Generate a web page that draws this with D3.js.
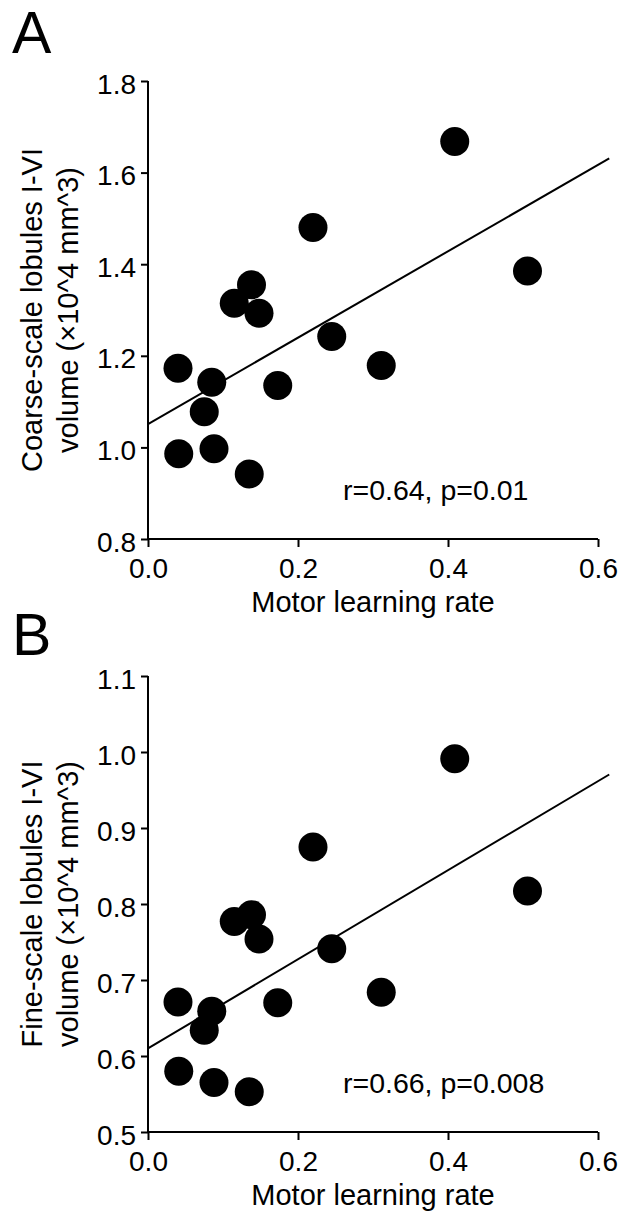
<!DOCTYPE html>
<html>
<head>
<meta charset="utf-8">
<script src="https://cdn.jsdelivr.net/npm/d3@7"></script>
<style>
  body { margin: 0; background: #fff; }
  svg text { font-family: "Liberation Sans", Arial, sans-serif; fill: #000; }
</style>
</head>
<body>
<svg id="chart" width="634" height="1213"></svg>
<script>
// motor learning rate, same subjects in both panels
var learningRate = [0.040, 0.041, 0.085, 0.075, 0.088, 0.135, 0.173, 0.245, 0.311, 0.115, 0.138, 0.148, 0.220, 0.409, 0.506];
// coarse-scale lobules I-VI volume (x10^4 mm^3)
var coarseVolume = [1.173, 0.986, 1.142, 1.078, 0.997, 0.942, 1.135, 1.242, 1.179, 1.315, 1.355, 1.293, 1.480, 1.668, 1.385];
// fine-scale lobules I-VI volume (x10^4 mm^3)
var fineVolume = [0.671, 0.580, 0.659, 0.634, 0.565, 0.553, 0.670, 0.741, 0.684, 0.777, 0.786, 0.754, 0.875, 0.991, 0.817];

var xTicks = [0, 0.2, 0.4, 0.6];
var coarseTicks = [0.8, 1.0, 1.2, 1.4, 1.6, 1.8];
var fineTicks = [0.5, 0.6, 0.7, 0.8, 0.9, 1.0, 1.1];

// regression lines
var fitIntercept = [1.051, 0.610];
var fitSlope = [0.943, 0.586];
var fitEnd = 0.615;

var panelLetters = ['A', 'B'];
var yTitles = [
  ['Coarse-scale lobules I-VI', 'volume (\u00d710^4 mm^3)'],
  ['Fine-scale lobules I-VI', 'volume (\u00d710^4 mm^3)']
];
var statText = ['r=0.64, p=0.01', 'r=0.66, p=0.008'];

var svg = d3.select('#chart');

var left = 148, right = 598;
var x = d3.scaleLinear().domain([0, 0.6]).range([left, right]);

function drawPanel(i, yVals, ticks, top, bottom, letterY) {
  var y = d3.scaleLinear().domain([ticks[0], ticks[ticks.length - 1]]).range([bottom, top]);
  var g = svg.append('g');

  // panel letter
  g.append('text')
    .attr('x', 12).attr('y', letterY)
    .style('font-size', '59px')
    .text(panelLetters[i]);

  // y axis
  var yAxis = d3.axisLeft(y).tickValues(ticks).tickSize(7).tickPadding(5)
    .tickFormat(d3.format('.1f'));
  var ya = g.append('g').attr('transform', 'translate(' + left + ',0)').call(yAxis);
  ya.select('.domain').attr('stroke', '#000').attr('stroke-width', 2).attr('d', 'M0,' + top + 'V' + bottom);
  ya.selectAll('.tick line').attr('stroke', '#000').attr('stroke-width', 2);
  ya.selectAll('.tick text')
    .attr('dy', null).attr('y', 12)
    .style('font-size', '28px');

  // x axis
  var xAxis = d3.axisBottom(x).tickValues(xTicks).tickSize(8).tickPadding(11)
    .tickFormat(d3.format('.1f'));
  var xa = g.append('g').attr('transform', 'translate(0,' + bottom + ')').call(xAxis);
  xa.select('.domain').attr('stroke', '#000').attr('stroke-width', 2).attr('d', 'M' + left + ',0H' + right);
  xa.selectAll('.tick line').attr('stroke', '#000').attr('stroke-width', 2);
  xa.selectAll('.tick text')
    .attr('dy', null).attr('y', 39)
    .style('font-size', '28px');

  // axis titles
  g.append('text')
    .attr('x', (left + right) / 2).attr('y', bottom + 73)
    .attr('text-anchor', 'middle')
    .style('font-size', '29px')
    .text('Motor learning rate');

  var mid = (top + bottom) / 2;
  yTitles[i].forEach(function(t, k) {
    g.append('text')
      .attr('transform', 'translate(' + (42 + k * 36) + ',' + mid + ') rotate(-90)')
      .attr('text-anchor', 'middle')
      .style('font-size', '29px')
      .text(t);
  });

  // regression line
  g.append('line')
    .attr('x1', x(0)).attr('y1', y(fitIntercept[i]))
    .attr('x2', x(fitEnd)).attr('y2', y(fitIntercept[i] + fitSlope[i] * fitEnd))
    .attr('stroke', '#000').attr('stroke-width', 2);

  // points
  g.selectAll('circle.pt')
    .data(learningRate)
    .enter().append('circle')
    .attr('class', 'pt')
    .attr('cx', function(d) { return x(d); })
    .attr('cy', function(d, j) { return y(yVals[j]); })
    .attr('r', 14.5)
    .attr('fill', '#000');

  // stats
  g.append('text')
    .attr('x', x(0.26)).attr('y', bottom - 39)
    .style('font-size', '28.5px')
    .text(statText[i]);
}

drawPanel(0, coarseVolume, coarseTicks, 81, 539, 53);
drawPanel(1, fineVolume, fineTicks, 676, 1132, 655);
</script>
</body>
</html>
